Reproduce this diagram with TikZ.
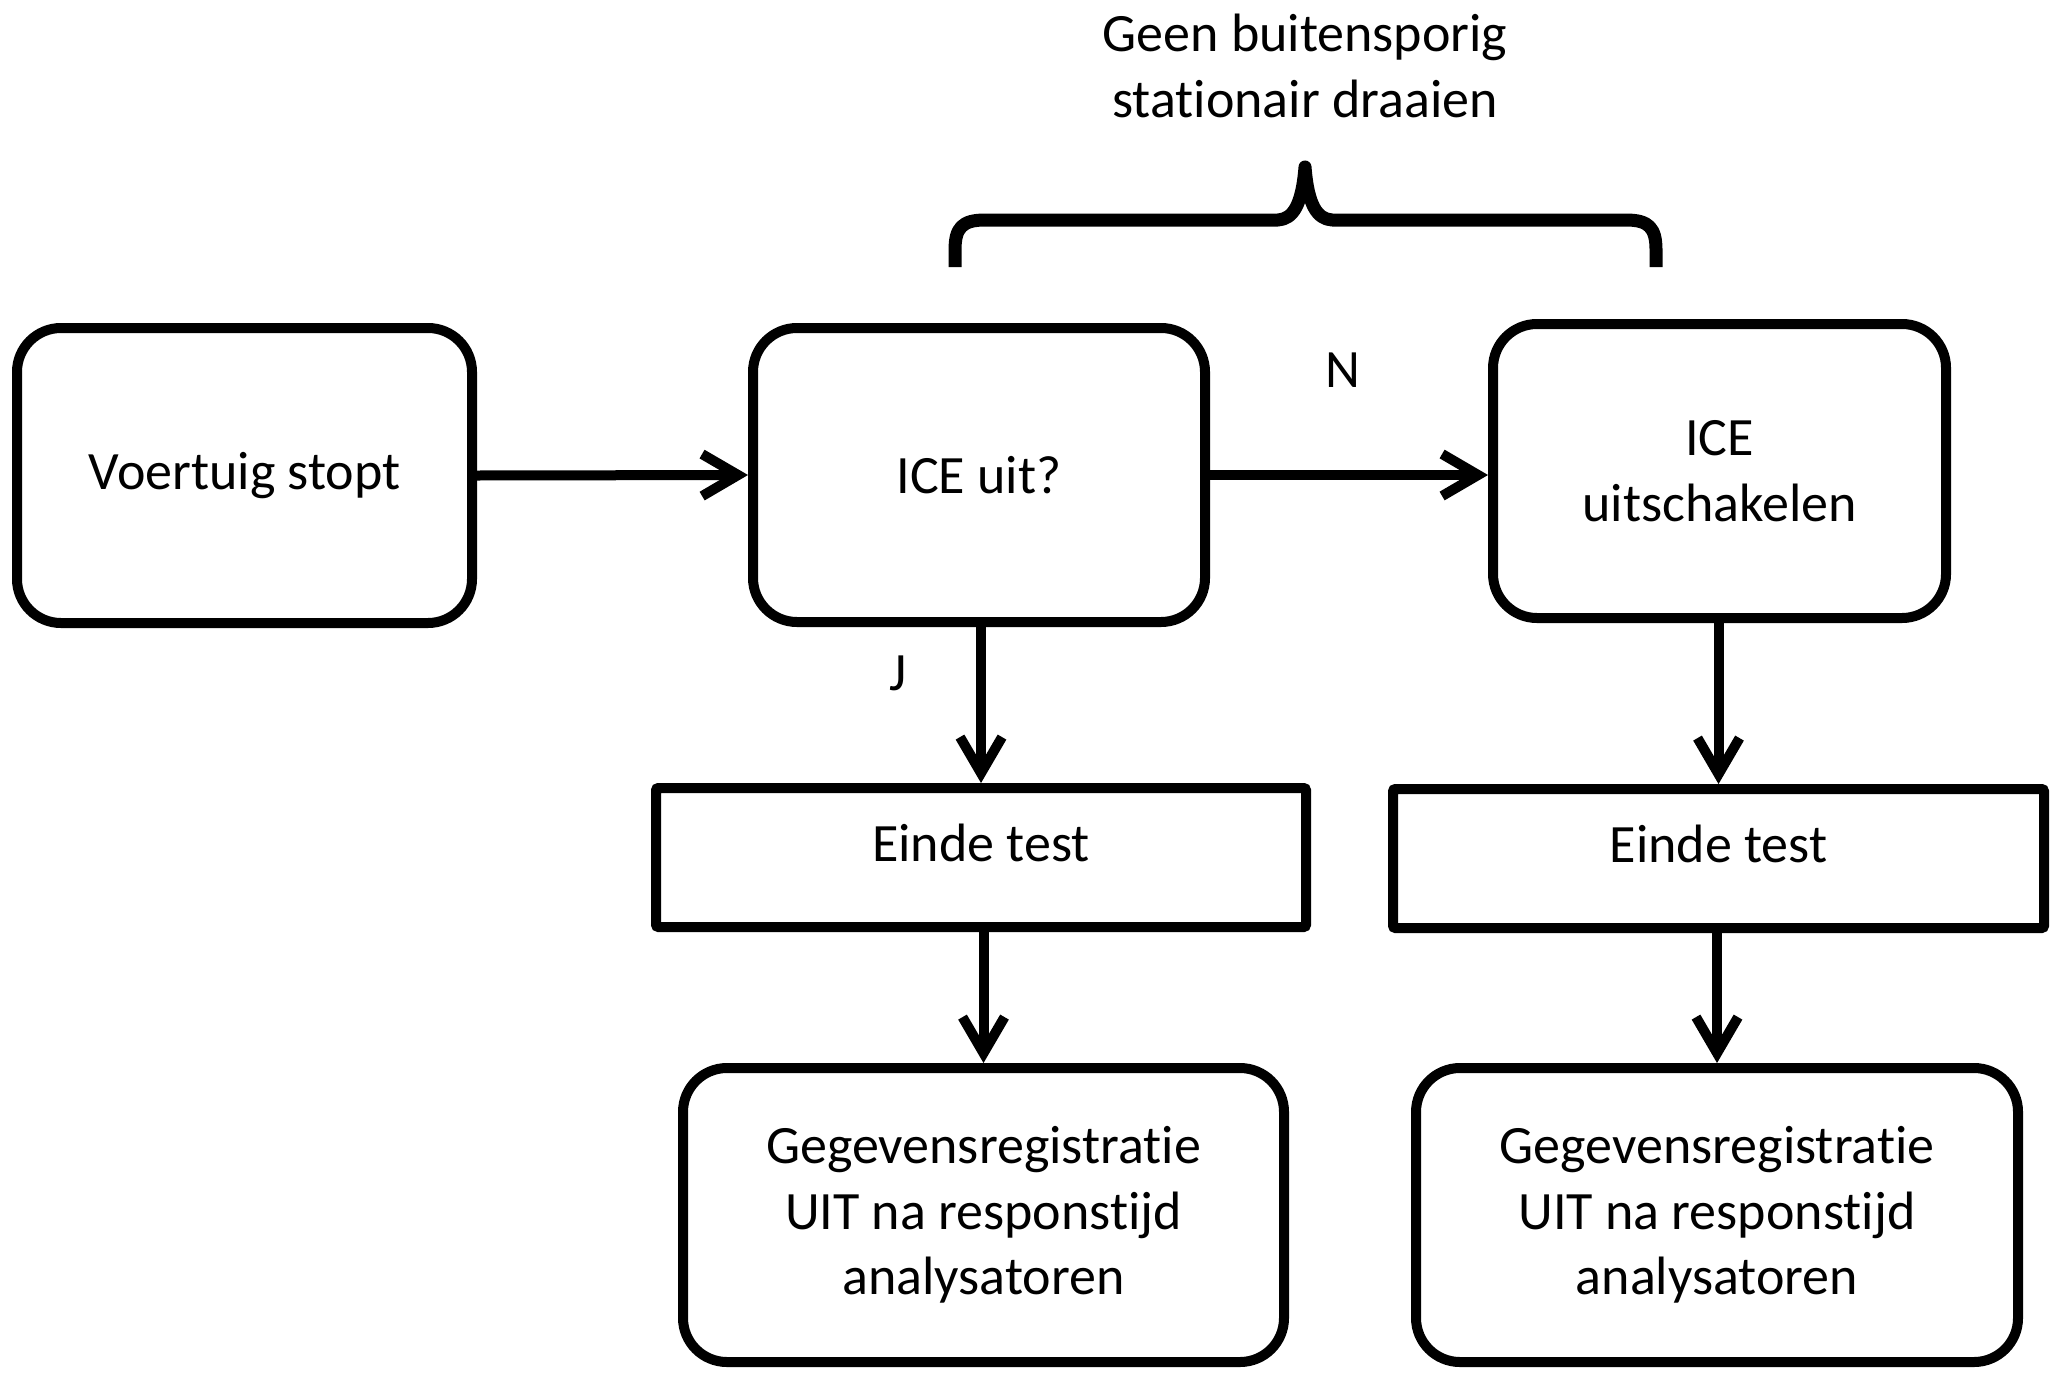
\documentclass[tikz,border=0pt]{standalone}
\usepackage{fontspec}
\setmainfont{Carlito}[RawFeature={-liga;-clig;-calt;-dlig}]
\usetikzlibrary{arrows.meta}
\tikzset{
  rbox/.style={draw=black, line width=2.5pt, rounded corners=11pt, align=center, inner sep=0pt,
    font=\fontsize{13.5pt}{16.4pt}\selectfont},
  sbox/.style={draw=black, line width=2.5pt, rounded corners=0.6pt, align=center, inner sep=0pt,
    font=\fontsize{13.5pt}{16.4pt}\selectfont},
  lbl/.style={font=\fontsize{13.5pt}{16.4pt}\selectfont, inner sep=0pt, align=center},
  conn/.style={line width=2.5pt, -{Straight Barb[length=9pt,width=10.5pt,line width=2.5pt]}},
  bracestyle/.style={line width=3.25pt, line join=round}
}
\begin{document}
\begin{tikzpicture}[x=0.25pt,y=-0.25pt]
\useasboundingbox (0,0) rectangle (2062,1380);
% boxes
\node[rbox, minimum width=113.75pt, minimum height=73.75pt] (b1) at (244.5,475.5) {Voertuig stopt};
\node[rbox, minimum width=113pt, minimum height=73.5pt] (b2) at (979,475) {ICE uit?};
\node[rbox, minimum width=113.25pt, minimum height=73.5pt] (b3) at (1719.5,471) {ICE\\uitschakelen};
\node[sbox, minimum width=162.5pt, minimum height=34.75pt] (e1) at (981,857.5) {\raisebox{3.6pt}[\height][\depth]{Einde test}};
\node[sbox, minimum width=162.75pt, minimum height=34.75pt] (e2) at (1718.5,858.5) {\raisebox{3.6pt}[\height][\depth]{Einde test}};
\node[rbox, minimum width=150.25pt, minimum height=73.5pt] (g1) at (983.5,1215) {Gegevensregistratie\\UIT na responstijd\\analysatoren};
\node[rbox, minimum width=150.5pt, minimum height=73.5pt] (g2) at (1717,1215) {Gegevensregistratie\\UIT na responstijd\\analysatoren};
% labels
\node[lbl] (title) at (1305,66) {Geen buitensporig\\stationair draaien};
\node[lbl] (lN) at (1343,370) {N};
\node[lbl] (lJ) at (898,673) {J};
% connectors
\draw[conn] (b1.east) -- (b2.west);
\draw[conn] (b2.east) -- (b2.east -| b3.west);
\draw[conn] (e1.north |- b2.south) -- (e1.north);
\draw[conn] (e1.south -| g1.north) -- (g1.north);
\draw[conn] (e2.north |- b3.south) -- (e2.north);
\draw[conn] (e2.south -| g2.north) -- (g2.north);
% brace
\draw[bracestyle] (955,267) -- (955,250) .. controls (955,228) and (962,220) .. (985,220)
  -- (1278,220) .. controls (1293,219) and (1302,205) .. (1305,167)
  .. controls (1308,205) and (1317,219) .. (1332,220)
  -- (1626,220) .. controls (1649,220) and (1656,228) .. (1656,250) -- (1656,267);
\end{tikzpicture}
\end{document}
